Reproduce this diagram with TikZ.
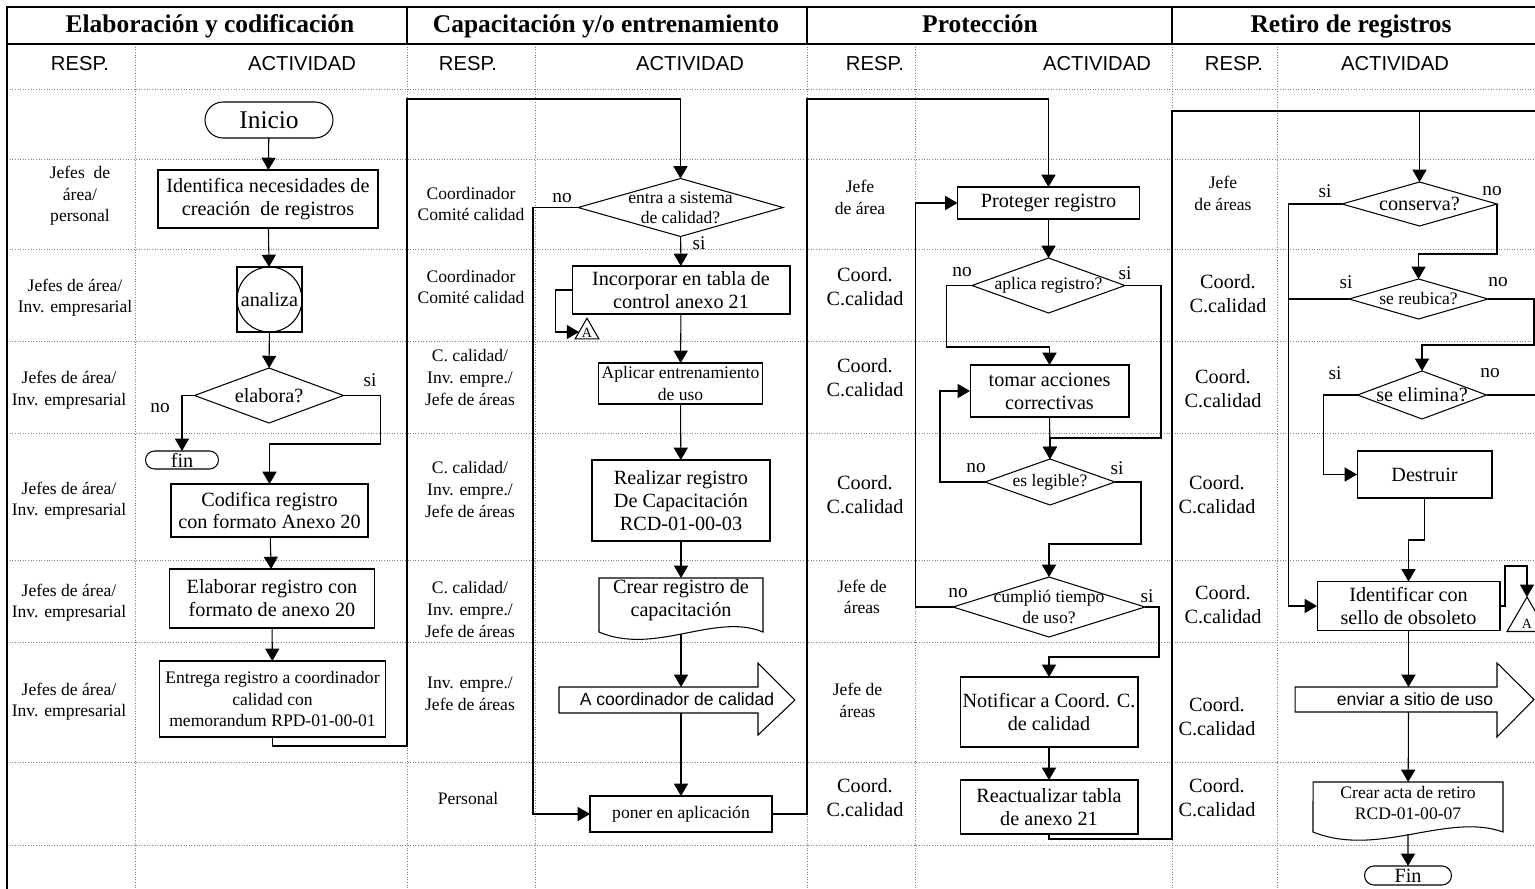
\documentclass[tikz,border=0pt]{standalone}
\usepackage{fontspec}
\setmainfont{Liberation Serif}
\setsansfont{Liberation Sans}
\usetikzlibrary{shapes.geometric,shapes.misc,arrows.meta}

\tikzset{
  caja/.style={draw, rectangle, inner sep=0pt, outer sep=0pt, align=center,
    font=\fontsize{11.5}{13}\selectfont},
  cajita/.style={caja, font=\fontsize{10}{12}\selectfont},
  decision/.style={draw, diamond, inner sep=0pt, outer sep=0pt},
  dtexto/.style={align=center, inner sep=0pt, font=\fontsize{10}{11.5}\selectfont},
  dtextog/.style={align=center, inner sep=0pt, font=\fontsize{11.5}{13}\selectfont},
  terminal/.style={draw, rounded rectangle, inner sep=0pt, outer sep=0pt,
    font=\fontsize{11.5}{13}\selectfont},
  documento/.style={inner sep=0pt, outer sep=0pt},
  flechabloque/.style={inner sep=0pt, outer sep=0pt},
  conector/.style={draw, regular polygon, regular polygon sides=3, inner sep=0pt, outer sep=0pt},
  resp/.style={align=center, font=\fontsize{10}{12.3}\selectfont},
  respg/.style={align=center, font=\fontsize{11.5}{13.8}\selectfont},
  rama/.style={inner sep=0pt, font=\fontsize{11}{13}\selectfont},
  titulo/.style={anchor=base, font=\fontsize{14.5}{17}\selectfont\bfseries},
  encab/.style={anchor=base, font=\fontsize{11.5}{13}\sffamily},
  malla/.style={densely dotted, gray, line width=0.5pt},
  marco/.style={line width=1.6pt}
}

\begin{document}
\begin{tikzpicture}[x=0.02cm, y=-0.02cm, line width=0.6pt,
    >={Triangle[length=7pt,width=8pt]}]
  \useasboundingbox (0,0) rectangle (1535,889);

  % rejilla punteada y marco
  \foreach \f in {89,159,249,341,433,560,642,762,845}
    \draw[malla] (7,\f) -- (1535,\f);
  \foreach \c in {135,407,535,807,915,1172,1277}
    \draw[malla] (\c,44) -- (\c,889);
  \draw[marco] (1535,7) -- (7,7) -- (7,889);
  \draw[marco] (7,44) -- (1535,44);
  \foreach \c in {407,807,1172}
    \draw[marco] (\c,7) -- (\c,44);

  % encabezados
  \node[titulo] (tit1) at (210,32.5) {Elaboración y codificación};
  \node[titulo] (tit2) at (606,32.5) {Capacitación y/o entrenamiento};
  \node[titulo] (tit3) at (980,32.5) {Protección};
  \node[titulo] (tit4) at (1351,32.5) {Retiro de registros};
  \node[encab] (resp1) at (80,70) {RESP.};
  \node[encab] (act1) at (302,70) {ACTIVIDAD};
  \node[encab] (resp2) at (468,70) {RESP.};
  \node[encab] (act2) at (690,70) {ACTIVIDAD};
  \node[encab] (resp3) at (875,70) {RESP.};
  \node[encab] (act3) at (1097,70) {ACTIVIDAD};
  \node[encab] (resp4) at (1234,70) {RESP.};
  \node[encab] (act4) at (1395,70) {ACTIVIDAD};

  % responsables
  \node[resp] (ra1) at (80,196) {Jefes~ de\\área/\\personal};
  \node[resp] (ra2) at (75,297.5) {Jefes de área/\\Inv. empresarial};
  \node[resp] (ra3) at (69,390) {Jefes de área/\\Inv. empresarial};
  \node[resp] (ra4) at (69,500.5) {Jefes de área/\\Inv. empresarial};
  \node[resp] (ra5) at (69,602.5) {Jefes de área/\\Inv. empresarial};
  \node[resp] (ra6) at (69,701.5) {Jefes de área/\\Inv. empresarial};

  \node[resp] (rb1) at (471,204) {Coordinador\\Comité calidad};
  \node[resp] (rb2) at (471,287) {Coordinador\\Comité calidad};
  \node[resp] (rb3) at (470,377.5) {C. calidad/\\Inv. empre./\\Jefe de áreas};
  \node[resp] (rb4) at (470,489.5) {C. calidad/\\Inv. empre./\\Jefe de áreas};
  \node[resp] (rb5) at (470,609.5) {C. calidad/\\Inv. empre./\\Jefe de áreas};
  \node[resp] (rb6) at (470,694) {Inv. empre./\\Jefe de áreas};
  \node[resp] (rb7) at (468,798) {Personal};

  \node[resp] (rc1) at (860,197.5) {Jefe\\de área};
  \node[respg] (rc2) at (865,287) {Coord.\\C.calidad};
  \node[respg] (rc3) at (865,378) {Coord.\\C.calidad};
  \node[respg] (rc4) at (865,494.5) {Coord.\\C.calidad};
  \node[resp] (rc5) at (862,597) {Jefe de\\áreas};
  \node[resp] (rc6) at (857.5,700.5) {Jefe de\\áreas};
  \node[respg] (rc7) at (865,797.5) {Coord.\\C.calidad};

  \node[resp] (rd1) at (1223,193.5) {Jefe\\de áreas};
  \node[respg] (rd2) at (1228,294) {Coord.\\C.calidad};
  \node[respg] (rd3) at (1223,388.5) {Coord.\\C.calidad};
  \node[respg] (rd4) at (1217,495) {Coord.\\C.calidad};
  \node[respg] (rd5) at (1223,604.5) {Coord.\\C.calidad};
  \node[respg] (rd6) at (1217,716.5) {Coord.\\C.calidad};
  \node[respg] (rd7) at (1217,797.5) {Coord.\\C.calidad};

  % Elaboracion y codificacion
  \node[terminal, minimum width=2.56cm, minimum height=0.72cm,
    font=\fontsize{14.5}{16}\selectfont] (inicio) at (269,120) {Inicio};
  \node[caja, minimum width=4.4cm, minimum height=1.16cm] (identifica) at (268,199)
    {Identifica necesidades de\\creación~ de registros};
  \node[caja, minimum size=1.3cm] (analiza) at (269.5,299.5) {analiza};
  \draw (analiza.center) circle (0.65cm);
  \node[decision, minimum width=2.98cm, minimum height=1.1cm,
    label={[dtextog]center:elabora?}] (elabora) at (269,395.5) {};
  \node[rama] (si1) at (370,380) {si};
  \node[rama] (no1) at (160,408) {no};
  \node[terminal, minimum width=1.46cm, minimum height=0.36cm] (fin) at (182,460) {fin};
  \node[caja, minimum width=3.94cm, minimum height=1.06cm] (codifica) at (269.5,510.5)
    {Codifica registro\\con formato Anexo 20};
  \node[caja, minimum width=4.1cm, minimum height=1.18cm] (elaborar) at (272,598.5)
    {Elaborar registro con\\formato de anexo 20};
  \node[cajita, minimum width=4.52cm, minimum height=1.52cm] (entrega) at (272.5,699)
    {Entrega registro a coordinador\\calidad con\\memorandum RPD-01-00-01};

  \draw[->] (inicio) -- (identifica);
  \draw[->] (identifica) -- (analiza);
  \draw[->] (analiza) -- (elabora);
  \draw[->] (elabora.west) -| (fin);
  \draw[->] (elabora.east) -- ++(37,0) -- ++(0,48.5) -| (codifica);
  \draw[->] (codifica) -- (elaborar);
  \draw[->] (elaborar) -- (entrega);

  % Capacitacion y/o entrenamiento
  \node[decision, minimum width=4.1cm, minimum height=1.16cm,
    label={[dtexto]center:entra a sistema\\de calidad?}] (entra) at (680.5,207.5) {};
  \node[rama] (no2) at (562,198) {no};
  \node[rama] (si2) at (699,243) {si};
  \node[caja, minimum width=4.36cm, minimum height=0.96cm] (incorpora) at (681,290)
    {Incorporar en tabla de\\control anexo 21};
  \node[conector, minimum size=0.55cm,
    label={[inner sep=0pt, font=\fontsize{8}{9}\selectfont, yshift=-0.5pt]center:A}]
    (conA) at (587,332) {};
  \node[cajita, minimum width=3.28cm, minimum height=0.82cm] (aplicar) at (680.5,383.5)
    {Aplicar entrenamiento\\de uso};
  \node[caja, minimum width=3.56cm, minimum height=1.62cm] (realizar) at (681,500.5)
    {Realizar registro\\De Capacitación\\RCD-01-00-03};
  \node[documento, minimum width=3.28cm, minimum height=1.12cm,
    label={[dtextog, yshift=3.4pt]center:Crear registro de\\capacitación}] (crear) at (681,606) {};
  \draw (crear.north west) -- (crear.north east) -- (763,632)
    .. controls (715,612) and (655,656) .. (599,632) -- cycle;
  \node[flechabloque, minimum width=3.98cm, minimum height=0.52cm] (aviso) at (658.5,700) {};
  \draw (aviso.north west) -- (aviso.north east) -- ++(0,-24) -- ++(37,37)
    -- ++(-37,35) -- (aviso.south east) -- (aviso.south west) -- cycle;
  \node[inner sep=0pt, font=\fontsize{10}{12}\sffamily] (avisotxt) at (677,699)
    {A coordinador de calidad};
  \node[cajita, minimum width=3.64cm, minimum height=0.72cm] (poner) at (681,814)
    {poner en aplicación};

  \draw[->] (entra) -- (incorpora);
  \draw[->] (entra.west) -- ++(-45,0) |- (poner);
  \draw[->] (incorpora.west) -- ++(-17,0) |- (conA);
  \draw[->] (incorpora) -- (aplicar);
  \draw[->] (aplicar) -- (realizar);
  \draw[->] (realizar) -- (crear);
  \draw[->] (crear) -- (crear |- aviso.north);
  \draw[->] (poner |- aviso.south) -- (poner);

  % Proteccion
  \node[caja, minimum width=3.64cm, minimum height=0.64cm] (protege) at (1048.5,203)
    {Proteger registro};
  \node[decision, minimum width=3.06cm, minimum height=1.1cm,
    label={[dtexto]center:aplica registro?}] (aplica) at (1048.5,285.5) {};
  \node[rama] (no3) at (962,272) {no};
  \node[rama] (si3) at (1125,273) {si};
  \node[caja, minimum width=3.18cm, minimum height=1.04cm] (tomar) at (1049.5,391)
    {tomar acciones\\correctivas};
  \node[decision, minimum width=2.6cm, minimum height=0.92cm,
    label={[dtexto]center:es legible?}] (legible) at (1050,482) {};
  \node[rama] (no4) at (976,468) {no};
  \node[rama] (si4) at (1117,468) {si};
  \node[decision, minimum width=3.84cm, minimum height=1.2cm,
    label={[dtexto]center:cumplió tiempo\\de uso?}] (cumplio) at (1049,607) {};
  \node[rama] (no5) at (958,593) {no};
  \node[rama] (si5) at (1147,596) {si};
  \node[caja, minimum width=3.56cm, minimum height=1.4cm] (notifica) at (1049,712)
    {Notificar a Coord. C.\\de calidad};
  \node[caja, minimum width=3.56cm, minimum height=1.08cm] (reactualiza) at (1049,807)
    {Reactualizar tabla\\de anexo 21};

  \draw[->] (protege) -- (aplica);
  \draw[->] (aplica.west) -| (946.5,347) -| (tomar);
  \draw[->] (aplica.east) -| (1161,438) -| (legible);
  \draw[->] (tomar) -- (legible);
  \draw[->] (legible.west) -- ++(-45,0) |- (tomar);
  \draw[->] (legible.east) -| (1141,544) -| (cumplio);
  \draw[->] (cumplio.west) -- ++(-38,0) |- (protege);
  \draw[->] (cumplio.east) -| (1159,657) -| (notifica);
  \draw[->] (notifica) -- (reactualiza);

  % Retiro de registros
  \coordinate (borde) at (1535,111);
  \coordinate (bordeb) at (1535,395);
  \node[decision, minimum width=3.1cm, minimum height=0.88cm,
    label={[dtextog]center:conserva?}] (conserva) at (1419.5,204) {};
  \node[rama] (si6) at (1325,191) {si};
  \node[rama] (no6) at (1492,191) {no};
  \node[decision, minimum width=2.78cm, minimum height=0.8cm,
    label={[dtexto]center:se reubica?}] (reubica) at (1418.5,299) {};
  \node[rama] (si7) at (1346,282) {si};
  \node[rama] (no7) at (1498,282) {no};
  \node[decision, minimum width=2.58cm, minimum height=0.96cm,
    label={[dtextog]center:se elimina?}] (elimina) at (1422,395) {};
  \node[rama] (si8) at (1335,373) {si};
  \node[rama] (no8) at (1490,373) {no};
  \node[caja, minimum width=2.7cm, minimum height=0.94cm] (destruir) at (1424.5,474.5)
    {Destruir};
  \node[caja, minimum width=3.66cm, minimum height=0.98cm] (identificar) at (1408.5,606)
    {Identificar con\\sello de obsoleto};
  \node[conector, minimum size=0.92cm,
    label={[inner sep=0pt, font=\fontsize{8}{9}\selectfont, yshift=-2pt]center:A}]
    (conB) at (1527,620) {};
  \node[flechabloque, minimum width=4.04cm, minimum height=0.5cm] (envio) at (1396,699.5) {};
  \draw (envio.north west) -- (envio.north east) -- ++(0,-24) -- ++(37,36.5)
    -- ++(-37,37.5) -- (envio.south east) -- (envio.south west) -- cycle;
  \node[inner sep=0pt, font=\fontsize{10}{12}\sffamily] (enviotxt) at (1415,699)
    {enviar a sitio de uso};
  \node[documento, minimum width=3.8cm, minimum height=1.04cm,
    label={[dtexto, yshift=2.8pt]center:Crear acta de retiro\\RCD-01-00-07}] (acta) at (1408,808) {};
  \draw (acta.north west) -- (acta.north east) -- (1503,832)
    .. controls (1447,812) and (1378,858) .. (1313,832) -- cycle;
  \node[terminal, minimum width=1.74cm, minimum height=0.38cm] (finb) at (1408,875.5) {Fin};

  \draw[->] (conserva.west) -- ++(-54,0) |- (identificar);
  \draw (reubica.west) -- ++(-61,0);
  \draw[->] (conserva.east) -- ++(0,50) -| (reubica);
  \draw[->] (reubica.east) -| (1534,345) -| (elimina);
  \draw[->] (elimina.west) -- ++(-34,0) |- (destruir);
  \draw (elimina.east) -- (bordeb);
  \draw[->] (destruir.south) -- ++(0,42) -| (identificar);
  \draw[->] (identificar.east) -- ++(5,0) |- (1527,566) -- (conB);
  \draw[->] (identificar) -- (identificar |- envio.north);
  \draw[->] (identificar |- envio.south) -- (acta);
  \draw[->] (acta) -- (finb);

  % enlaces entre carriles
  \draw[->] (entrega.south) -- ++(0,9) -| (407,99) -| (entra);
  \draw[->] (poner.east) -| (807,99) -| (protege);
  \draw[->] (reactualiza.south) -- ++(0,5) -| (1172,111) -| (conserva);
  \draw (1172,111) -- (borde);
\end{tikzpicture}
\end{document}
